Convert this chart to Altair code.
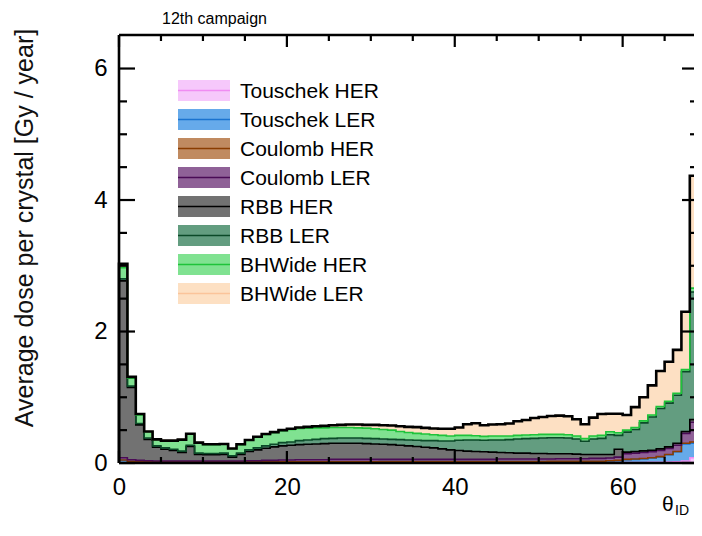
import altair as alt
import numpy as np
import pandas as pd

# ---------------- data ----------------
title_text = "12th campaign"
y_title = "Average dose per crystal [Gy / year]"
x_title_main = "θ"
x_title_sub = "ID"

theta_id = list(range(69))  # bins [i, i+1)

components = ["Touschek HER", "Touschek LER", "Coulomb HER", "Coulomb LER",
              "RBB HER", "RBB LER", "BHWide HER", "BHWide LER"]
fill_colors = ["#f6c8fb", "#66aaea", "#c08a60", "#8f6197",
               "#727272", "#639d80", "#80e291", "#fde0c3"]
line_colors = ["#f08cf2", "#1a73d0", "#8a3c00", "#4a0b56",
               "#000000", "#0b4a28", "#1ec33a", "#fbc49a"]

touschek_her = [
    0.003, 0.003, 0.003, 0.003, 0.003, 0.003, 0.003, 0.003, 0.003, 0.003,
    0.003, 0.003, 0.003, 0.003, 0.003, 0.003, 0.003, 0.003, 0.003, 0.003,
    0.003, 0.003, 0.003, 0.003, 0.003, 0.003, 0.003, 0.003, 0.003, 0.003,
    0.003, 0.003, 0.003, 0.003, 0.003, 0.003, 0.003, 0.003, 0.003, 0.003,
    0.003, 0.003, 0.003, 0.003, 0.003, 0.003, 0.003, 0.003, 0.003, 0.003,
    0.003, 0.003, 0.003, 0.003, 0.003, 0.003, 0.003, 0.003, 0.005, 0.005,
    0.005, 0.005, 0.008, 0.010, 0.012, 0.015, 0.020, 0.030, 0.080]
touschek_ler = [
    0.040, 0.020, 0.012, 0.012, 0.012, 0.012, 0.012, 0.012, 0.012, 0.012,
    0.012, 0.012, 0.012, 0.012, 0.012, 0.015, 0.015, 0.015, 0.015, 0.015,
    0.015, 0.015, 0.015, 0.015, 0.015, 0.015, 0.015, 0.015, 0.015, 0.015,
    0.015, 0.018, 0.018, 0.018, 0.018, 0.018, 0.018, 0.018, 0.018, 0.018,
    0.018, 0.018, 0.018, 0.018, 0.018, 0.018, 0.018, 0.018, 0.018, 0.018,
    0.018, 0.020, 0.020, 0.020, 0.020, 0.020, 0.020, 0.020, 0.025, 0.030,
    0.045, 0.050, 0.055, 0.065, 0.080, 0.110, 0.150, 0.260, 0.220]
coulomb_her = [
    0.002, 0.002, 0.002, 0.002, 0.002, 0.002, 0.002, 0.002, 0.002, 0.002,
    0.002, 0.002, 0.002, 0.002, 0.002, 0.002, 0.002, 0.002, 0.002, 0.002,
    0.002, 0.002, 0.002, 0.002, 0.002, 0.002, 0.002, 0.002, 0.002, 0.002,
    0.002, 0.002, 0.002, 0.002, 0.002, 0.002, 0.002, 0.002, 0.002, 0.002,
    0.002, 0.002, 0.002, 0.002, 0.002, 0.002, 0.002, 0.002, 0.002, 0.002,
    0.002, 0.002, 0.002, 0.002, 0.002, 0.002, 0.002, 0.002, 0.005, 0.005,
    0.005, 0.005, 0.005, 0.005, 0.005, 0.005, 0.005, 0.010, 0.020]
coulomb_ler = [
    0.035, 0.025, 0.023, 0.018, 0.013, 0.013, 0.013, 0.013, 0.013, 0.013,
    0.013, 0.013, 0.013, 0.013, 0.013, 0.015, 0.015, 0.020, 0.020, 0.025,
    0.025, 0.030, 0.030, 0.030, 0.030, 0.035, 0.035, 0.035, 0.035, 0.035,
    0.035, 0.032, 0.032, 0.032, 0.032, 0.032, 0.032, 0.032, 0.032, 0.032,
    0.032, 0.032, 0.032, 0.032, 0.032, 0.037, 0.037, 0.037, 0.037, 0.037,
    0.037, 0.035, 0.040, 0.040, 0.040, 0.040, 0.045, 0.045, 0.040, 0.050,
    0.085, 0.090, 0.092, 0.090, 0.093, 0.090, 0.095, 0.150, 0.300]
rbb_her = [
    2.690, 1.100, 0.540, 0.325, 0.210, 0.180, 0.160, 0.130, 0.220, 0.100,
    0.095, 0.095, 0.100, 0.060, 0.100, 0.140, 0.165, 0.185, 0.205, 0.215,
    0.225, 0.230, 0.235, 0.240, 0.245, 0.245, 0.245, 0.245, 0.245, 0.240,
    0.235, 0.230, 0.225, 0.215, 0.205, 0.195, 0.185, 0.175, 0.160, 0.145,
    0.135, 0.125, 0.120, 0.115, 0.110, 0.100, 0.095, 0.090, 0.090, 0.085,
    0.085, 0.080, 0.075, 0.075, 0.070, 0.065, 0.060, 0.060, 0.055, 0.120,
    0.025, 0.025, 0.025, 0.025, 0.025, 0.025, 0.030, 0.030, 0.040]
rbb_ler = [
    0.030, 0.020, 0.020, 0.020, 0.020, 0.020, 0.020, 0.020, 0.020, 0.020,
    0.020, 0.020, 0.020, 0.020, 0.020, 0.025, 0.030, 0.035, 0.040, 0.050,
    0.050, 0.060, 0.065, 0.070, 0.075, 0.075, 0.080, 0.080, 0.080, 0.080,
    0.080, 0.080, 0.080, 0.085, 0.090, 0.095, 0.100, 0.110, 0.120, 0.135,
    0.155, 0.170, 0.175, 0.175, 0.185, 0.190, 0.200, 0.215, 0.220, 0.230,
    0.235, 0.245, 0.245, 0.240, 0.230, 0.200, 0.235, 0.245, 0.300, 0.210,
    0.305, 0.335, 0.425, 0.505, 0.615, 0.665, 0.730, 0.910, 1.940]
bhwide_her = [
    0.170, 0.120, 0.130, 0.095, 0.095, 0.105, 0.125, 0.170, 0.170, 0.155,
    0.135, 0.135, 0.135, 0.105, 0.130, 0.145, 0.165, 0.175, 0.180, 0.180,
    0.190, 0.185, 0.180, 0.175, 0.165, 0.165, 0.160, 0.160, 0.155, 0.155,
    0.150, 0.145, 0.140, 0.125, 0.115, 0.105, 0.100, 0.090, 0.085, 0.075,
    0.075, 0.070, 0.065, 0.060, 0.060, 0.060, 0.055, 0.055, 0.055, 0.055,
    0.055, 0.050, 0.050, 0.050, 0.045, 0.040, 0.045, 0.045, 0.045, 0.040,
    0.030, 0.030, 0.030, 0.030, 0.030, 0.030, 0.030, 0.030, 0.060]
bhwide_ler = [
    0.060, 0.020, 0.015, 0.005, 0.005, 0.005, 0.005, 0.005, 0.005, 0.005,
    0.005, 0.005, 0.005, 0.005, 0.005, 0.005, 0.005, 0.005, 0.005, 0.010,
    0.010, 0.015, 0.020, 0.025, 0.030, 0.035, 0.040, 0.045, 0.050, 0.050,
    0.060, 0.065, 0.070, 0.080, 0.085, 0.095, 0.095, 0.095, 0.100, 0.110,
    0.120, 0.170, 0.190, 0.170, 0.175, 0.180, 0.190, 0.215, 0.230, 0.255,
    0.265, 0.280, 0.285, 0.280, 0.255, 0.220, 0.280, 0.325, 0.275, 0.290,
    0.230, 0.310, 0.360, 0.450, 0.540, 0.600, 0.660, 0.880, 1.710]

series = [touschek_her, touschek_ler, coulomb_her, coulomb_ler,
          rbb_her, rbb_ler, bhwide_her, bhwide_ler]

x_major = [0, 20, 40, 60]
x_minor = [5, 10, 15, 25, 30, 35, 45, 50, 55, 65]
y_major = [0, 2, 4, 6]
y_minor = [0.5, 1, 1.5, 2.5, 3, 3.5, 4.5, 5, 5.5]

# ---------------- build stacked step table ----------------
nb = len(theta_id)
rows = []
cum = np.zeros(nb)
for k, (name, vals) in enumerate(zip(components, series)):
    lo = cum.copy()
    hi = cum + np.array(vals)
    cum = hi
    for e in range(nb + 1):
        b = min(e, nb - 1)
        x_edge = theta_id[b] if e < nb else theta_id[-1] + 1
        rows.append({"comp": name, "k": k, "x": x_edge, "lo": lo[b], "hi": hi[b]})
stack_df = pd.DataFrame(rows)

tot_rows = [{"idx": 0, "x": theta_id[0], "y": 0.0}]
for e in range(nb + 1):
    b = min(e, nb - 1)
    x_edge = theta_id[b] if e < nb else theta_id[-1] + 1
    tot_rows.append({"idx": e + 1, "x": x_edge, "y": cum[b]})
tot_df = pd.DataFrame(tot_rows)

W, H = 575, 428
XR = W + 4  # where the (off-page) right frame sits
FONT = "Liberation Sans"

xs = alt.Scale(domain=[0, 68.5], nice=False, zero=False)
ys = alt.Scale(domain=[0, 6.51], nice=False, zero=False)
xaxis = alt.Axis(values=x_major, ticks=False, tickSize=0, domain=False, grid=False,
                 labelFlush=False, labelFontSize=24, labelFont=FONT, labelColor="black",
                 labelPadding=12, title=None, labelOverlap=False)
yaxis = alt.Axis(values=y_major, ticks=False, tickSize=0, domain=False, grid=False,
                 labelFlush=False, labelFontSize=24, labelFont=FONT, labelColor="black",
                 labelPadding=12, title=None, labelOverlap=False)

fill_scale = alt.Scale(domain=components, range=fill_colors)
stroke_scale = alt.Scale(domain=components, range=line_colors)

areas = alt.Chart(stack_df).mark_area(interpolate="step-after", opacity=1).encode(
    x=alt.X("x:Q", scale=xs, axis=xaxis),
    y=alt.Y("hi:Q", scale=ys, axis=yaxis),
    y2="lo:Q",
    fill=alt.Fill("comp:N", scale=fill_scale, legend=None),
    order=alt.Order("k:Q"),
)

lines = alt.Chart(stack_df).mark_line(interpolate="step-after", strokeWidth=1.6).encode(
    x=alt.X("x:Q", scale=xs, axis=xaxis),
    y=alt.Y("hi:Q", scale=ys, axis=yaxis),
    stroke=alt.Stroke("comp:N", scale=stroke_scale, legend=None),
)

total = alt.Chart(tot_df).mark_line(interpolate="step-after", color="black",
                                    strokeWidth=2.6).encode(
    x=alt.X("x:Q", scale=xs, axis=xaxis),
    y=alt.Y("y:Q", scale=ys, axis=yaxis),
    order=alt.Order("idx:Q"),
)

# ---------------- frame & inward ticks ----------------
frame_df = pd.DataFrame({"a": [0]})
frame_left = alt.Chart(frame_df).mark_rule(color="black", strokeWidth=2.6).encode(
    x=alt.value(0), y=alt.value(0), y2=alt.value(H))
frame_top = alt.Chart(frame_df).mark_rule(color="black", strokeWidth=2.6).encode(
    x=alt.value(0), x2=alt.value(XR), y=alt.value(0))
frame_bottom = alt.Chart(frame_df).mark_rule(color="black", strokeWidth=2.6).encode(
    x=alt.value(0), x2=alt.value(XR), y=alt.value(H))

tick_layers = []
for vals, ln in [(x_major, 12), (x_minor, 6)]:
    d = pd.DataFrame({"v": vals})
    tick_layers.append(alt.Chart(d).mark_rule(color="black", strokeWidth=2.2).encode(
        x=alt.X("v:Q", scale=xs, axis=xaxis), y=alt.value(H), y2=alt.value(H - ln)))
    tick_layers.append(alt.Chart(d).mark_rule(color="black", strokeWidth=2.2).encode(
        x=alt.X("v:Q", scale=xs, axis=xaxis), y=alt.value(0), y2=alt.value(ln)))
for vals, ln in [(y_major, 16), (y_minor, 8)]:
    d = pd.DataFrame({"v": vals})
    tick_layers.append(alt.Chart(d).mark_rule(color="black", strokeWidth=2.2).encode(
        y=alt.Y("v:Q", scale=ys, axis=yaxis), x=alt.value(0), x2=alt.value(ln)))
    tick_layers.append(alt.Chart(d).mark_rule(color="black", strokeWidth=2.2).encode(
        y=alt.Y("v:Q", scale=ys, axis=yaxis), x=alt.value(XR - ln), x2=alt.value(XR)))

# ---------------- legend ----------------
leg_df = pd.DataFrame({"comp": components, "row": list(range(len(components)))})
leg_base = alt.Chart(leg_df).transform_calculate(
    ry0="45 + 29 * datum.row", ry1="66 + 29 * datum.row",
    rc="55.5 + 29 * datum.row", rt="62.5 + 29 * datum.row")
leg_box = leg_base.mark_rect().encode(
    x=alt.value(59), x2=alt.value(111),
    y=alt.Y("ry0:Q", scale=None), y2=alt.Y2("ry1:Q"),
    fill=alt.Fill("comp:N", scale=fill_scale, legend=None))
leg_line = leg_base.mark_rule(strokeWidth=1.4).encode(
    x=alt.value(59), x2=alt.value(111),
    y=alt.Y("rc:Q", scale=None),
    stroke=alt.Stroke("comp:N", scale=stroke_scale, legend=None))
leg_text = leg_base.mark_text(align="left", baseline="alphabetic", fontSize=21,
                              font=FONT, color="black").encode(
    x=alt.value(121), y=alt.Y("rt:Q", scale=None), text="comp:N")

# ---------------- titles ----------------
txt_df = pd.DataFrame({"a": [0]})
title_mark = alt.Chart(txt_df).mark_text(align="left", baseline="alphabetic", fontSize=16,
                                         font=FONT, color="black").encode(
    x=alt.value(43), y=alt.value(-11), text=alt.value(title_text))
ytitle_mark = alt.Chart(txt_df).mark_text(align="center", baseline="alphabetic", fontSize=25,
                                          font=FONT, color="#111111", angle=270).encode(
    x=alt.value(-86), y=alt.value(193), text=alt.value(y_title))
xtitle_mark = alt.Chart(txt_df).mark_text(align="left", baseline="alphabetic", fontSize=21,
                                          font=FONT, color="black").encode(
    x=alt.value(543), y=alt.value(476), text=alt.value(x_title_main))
xsub_mark = alt.Chart(txt_df).mark_text(align="left", baseline="alphabetic", fontSize=14,
                                        font=FONT, color="black").encode(
    x=alt.value(556), y=alt.value(480), text=alt.value(x_title_sub))

chart = alt.layer(
    areas, lines, total, frame_left, frame_top, frame_bottom, *tick_layers,
    leg_box, leg_line, leg_text, title_mark, ytitle_mark, xtitle_mark, xsub_mark,
).properties(
    width=W, height=H,
    padding={"left": 111, "top": 27, "right": 0, "bottom": 59},
    autosize=alt.AutoSizeParams(type="none"),
    background="white",
).configure_view(stroke=None)

chart.save("out.html", embed_options={"renderer": "svg", "actions": False})
